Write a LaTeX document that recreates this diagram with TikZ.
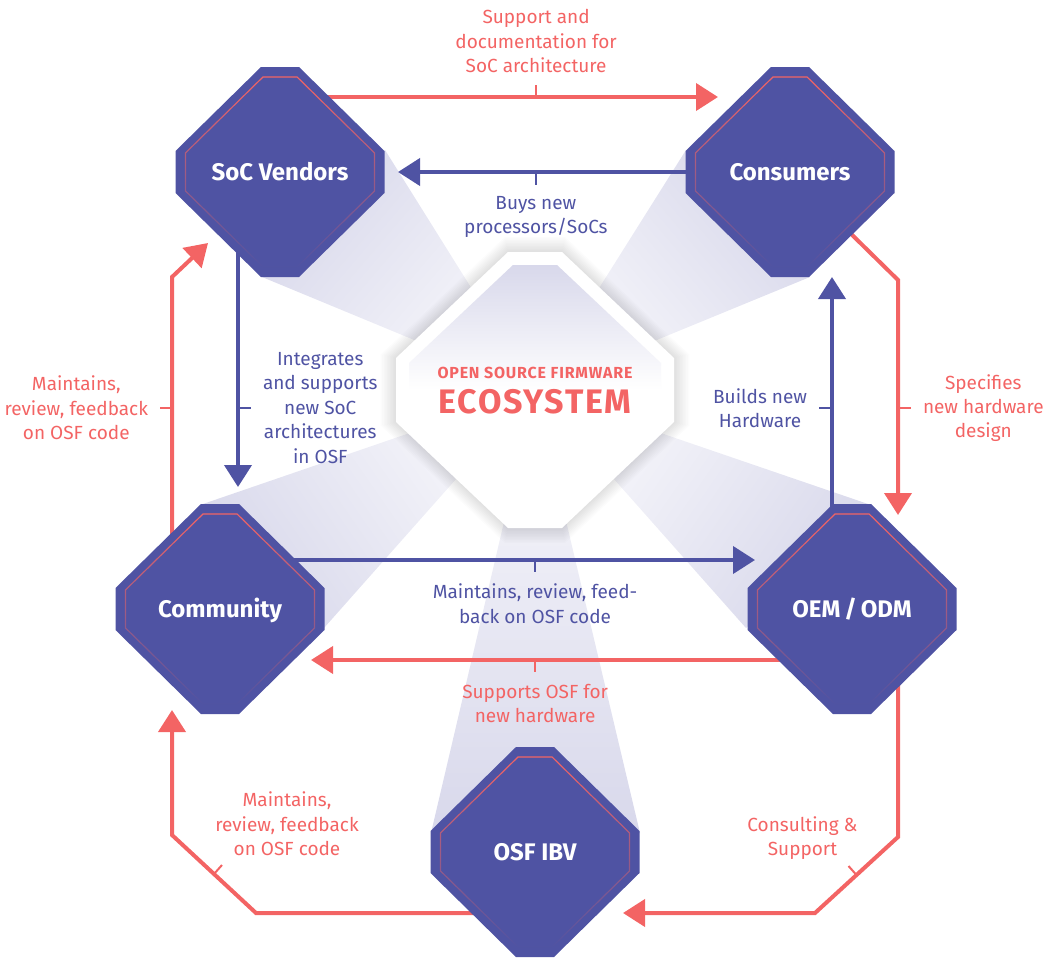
\documentclass[tikz,border=0pt]{standalone}
\usepackage{fontspec}
\setmainfont{Fira Sans}
\usetikzlibrary{arrows.meta,calc,fadings}

\definecolor{osfpurple}{RGB}{79,83,163}
\definecolor{osfred}{RGB}{243,100,100}
\definecolor{osfray}{RGB}{216,216,235}

\pgfdeclarelayer{rays}
\pgfdeclarelayer{links}
\pgfsetlayers{rays,links,main}

\tikzset{
  redarrow/.style={color=osfred, line width=2pt, -{Triangle[length=11pt,width=13.5pt]}},
  bluearrow/.style={color=osfpurple, line width=2pt, -{Triangle[length=11pt,width=13.5pt]}},
  redtick/.style={color=osfred, line width=1pt},
  bluetick/.style={color=osfpurple, line width=1pt},
  edgelabel/.style={align=center, font=\fontsize{9.5}{12.2}\selectfont, inner sep=0pt},
  redlabel/.style={edgelabel, text=osfred},
  bluelabel/.style={edgelabel, text=osfpurple},
  octlabel/.style={text=white, font=\bfseries\fontsize{12}{14}\selectfont, inner sep=0pt, text height=8.3pt, text depth=0pt},
  ecosub/.style={text=osfred, font=\bfseries\fontsize{8}{9}\selectfont\addfontfeatures{LetterSpace=5}, inner sep=0pt},
  ecotitle/.style={text=osfred, font=\bfseries\fontsize{17}{19}\selectfont\addfontfeatures{LetterSpace=5}, inner sep=0pt},
  lightray/.style={top color=osfray, bottom color=osfray!15!white}
}

% octagon with its label: name, x, y, text
\newcommand{\osfoctagon}[4]{%
  \fill[osfpurple] (#2,#3) ++(-19,-105) -- ++(38,0) -- ++(85.5,84) -- ++(0,42) -- ++(-85.5,84) -- ++(-38,0) -- ++(-85.5,-84) -- ++(0,-42) -- cycle;
  \draw[osfred, line width=0.6pt, path fading=south] (#2,#3) ++(-17,-95) -- ++(34,0) -- ++(77.5,76) -- ++(0,38) -- ++(-77.5,76) -- ++(-34,0) -- ++(-77.5,-76) -- ++(0,-38) -- cycle;
  \node[octlabel] (#1) at (#2,#3) {#4};
}

\begin{document}
\begin{tikzpicture}[x=0.5pt, y=-0.5pt]
\useasboundingbox (0,0) rectangle (1045,958);

% light rays from the centre
\begin{pgfonlayer}{rays}
\shade[lightray, shading angle=49.5] (535,390) -- (385,150) -- (262,277) -- cycle;
\shade[lightray, shading angle=-49.7] (535,390) -- (686,150) -- (810,277) -- cycle;
\shade[lightray, shading angle=124.8] (535,390) -- (200,505) -- (324,628) -- cycle;
\shade[lightray, shading angle=-124.6] (535,390) -- (871,505) -- (746,628) -- cycle;
\shade[lightray, shading angle=180] (535,390) -- (431,833) -- (640,833) -- cycle;
\end{pgfonlayer}

% centre octagon
\begin{scope}[shift={(535,390)}]
  \foreach \g in {1,...,10}
    \fill[black, opacity=0.012, scale={1+0.011*\g}] (-27,-138) -- (27,-138) -- (139,-32) -- (139,32) -- (27,138) -- (-27,138) -- (-139,32) -- (-139,-32) -- cycle;
  \fill[white] (-27,-138) -- (27,-138) -- (139,-32) -- (139,32) -- (27,138) -- (-27,138) -- (-139,32) -- (-139,-32) -- cycle;
  \shade[top color=osfray, bottom color=white, middle color=white] (-22,-125) -- (22,-125) -- (126,-27) -- (126,27) -- (22,125) -- (-22,125) -- (-126,27) -- (-126,-27) -- cycle;
\end{scope}
\node[ecosub] (ecosub) at (535,373) {OPEN SOURCE FIRMWARE};
\node[ecotitle] (ecotitle) at (535,402) {ECOSYSTEM};

% the five actors
\osfoctagon{soc}{280}{172}{SoC Vendors}
\osfoctagon{cons}{790}{172}{Consumers}
\osfoctagon{comm}{220}{609}{Community}
\osfoctagon{oem}{852}{609}{OEM\,/\,ODM}
\osfoctagon{ibv}{535}{852}{OSF IBV}

\begin{pgfonlayer}{links}
% SoC vendors -> consumers
\draw[redarrow] ($(soc)+(40,-75)$) -- coordinate[pos=.543] (t1) ($(cons)+(-72,-75)$);
\draw[redtick] (t1) -- ++(0,-12) node[redlabel, above=5.5pt] (l1) {Support and\\documentation for\\SoC architecture};

% consumers -> SoC vendors
\draw[bluearrow] ($(cons)+(-80,0)$) -- coordinate[pos=.558] (t2) ($(soc)+(118,0)$);
\draw[bluetick] (t2) -- ++(0,13) node[bluelabel, below=5pt] (l2) {Buys new\\processors/SoCs};

% SoC vendors -> community
\draw[bluearrow] ($(soc)+(-42,60)$) -- coordinate[pos=.69] (t3) ($(comm)+(18,-122)$);
\draw[bluetick] (t3) -- ++(13,0) node[bluelabel, right=5.5pt] (l3) {Integrates\\and supports\\new SoC\\architectures\\in OSF};

% community -> SoC vendors
\draw[redarrow] ($(comm)+(-48,-70)$) -- coordinate[pos=.5] (t4) ($(soc)+(-108,105)$) -- ($(soc)+(-72,71)$);
\draw[redtick] (t4) -- ++(-12,0) node[redlabel, left=5.5pt] (l4) {Maintains,\\review, feedback\\on OSF code};

% community -> OEM/ODM
\draw[bluearrow] ($(comm)+(65,-49)$) -- coordinate[pos=.532] (t5) ($(oem)+(-97,-49)$);
\draw[bluetick] (t5) -- ++(0,12) node[bluelabel, below=5.5pt] (l5) {Maintains, review, feed-\\back on OSF code};

% OEM/ODM -> consumers
\draw[bluearrow] ($(oem)+(-20,-70)$) -- coordinate[pos=.5] (t6) ($(cons)+(42,105)$);
\draw[bluetick] (t6) -- ++(-13,0) node[bluelabel, left=5.5pt] (l6) {Builds new\\Hardware};

% consumers -> OEM/ODM
\draw[redarrow] ($(cons)+(52,53)$) -- ($(cons)+(108,108)$) -- coordinate[pos=.545] (t7) ($(oem)+(46,-94)$);
\draw[redtick] (t7) -- ++(13,0) node[redlabel, right=5.5pt] (l7) {Specifies\\new hardware\\design};

% OEM/ODM -> community
\draw[redarrow] ($(oem)+(-60,51)$) -- coordinate[pos=.534] (t8) ($(comm)+(91,51)$);
\draw[redtick] (t8) -- ++(0,12) node[redlabel, below=5.5pt] (l8) {Supports OSF for\\new hardware};

% OEM/ODM -> OSF IBV
\draw[redarrow] ($(oem)+(46,70)$) -- ($(oem)+(46,228)$) -- coordinate[pos=.5] (t9) ($(ibv)+(280,61)$) -- ($(ibv)+(88,61)$);
\draw[redtick] (t9) -- ++(-8,-9) node[redlabel, anchor=south, xshift=-23pt, yshift=2.5pt] (l9) {Consulting \&\\Support};

% OSF IBV -> community
\draw[redarrow] ($(ibv)+(-55,61)$) -- ($(comm)+(36,304)$) -- coordinate[pos=.5] (t10) ($(comm)+(-48,226)$) -- ($(comm)+(-48,101)$);
\draw[redtick] (t10) -- ++(8,-9) node[redlabel, anchor=south, xshift=32.5pt, yshift=4pt] (l10) {Maintains,\\review, feedback\\on OSF code};
\end{pgfonlayer}
\end{tikzpicture}
\end{document}
